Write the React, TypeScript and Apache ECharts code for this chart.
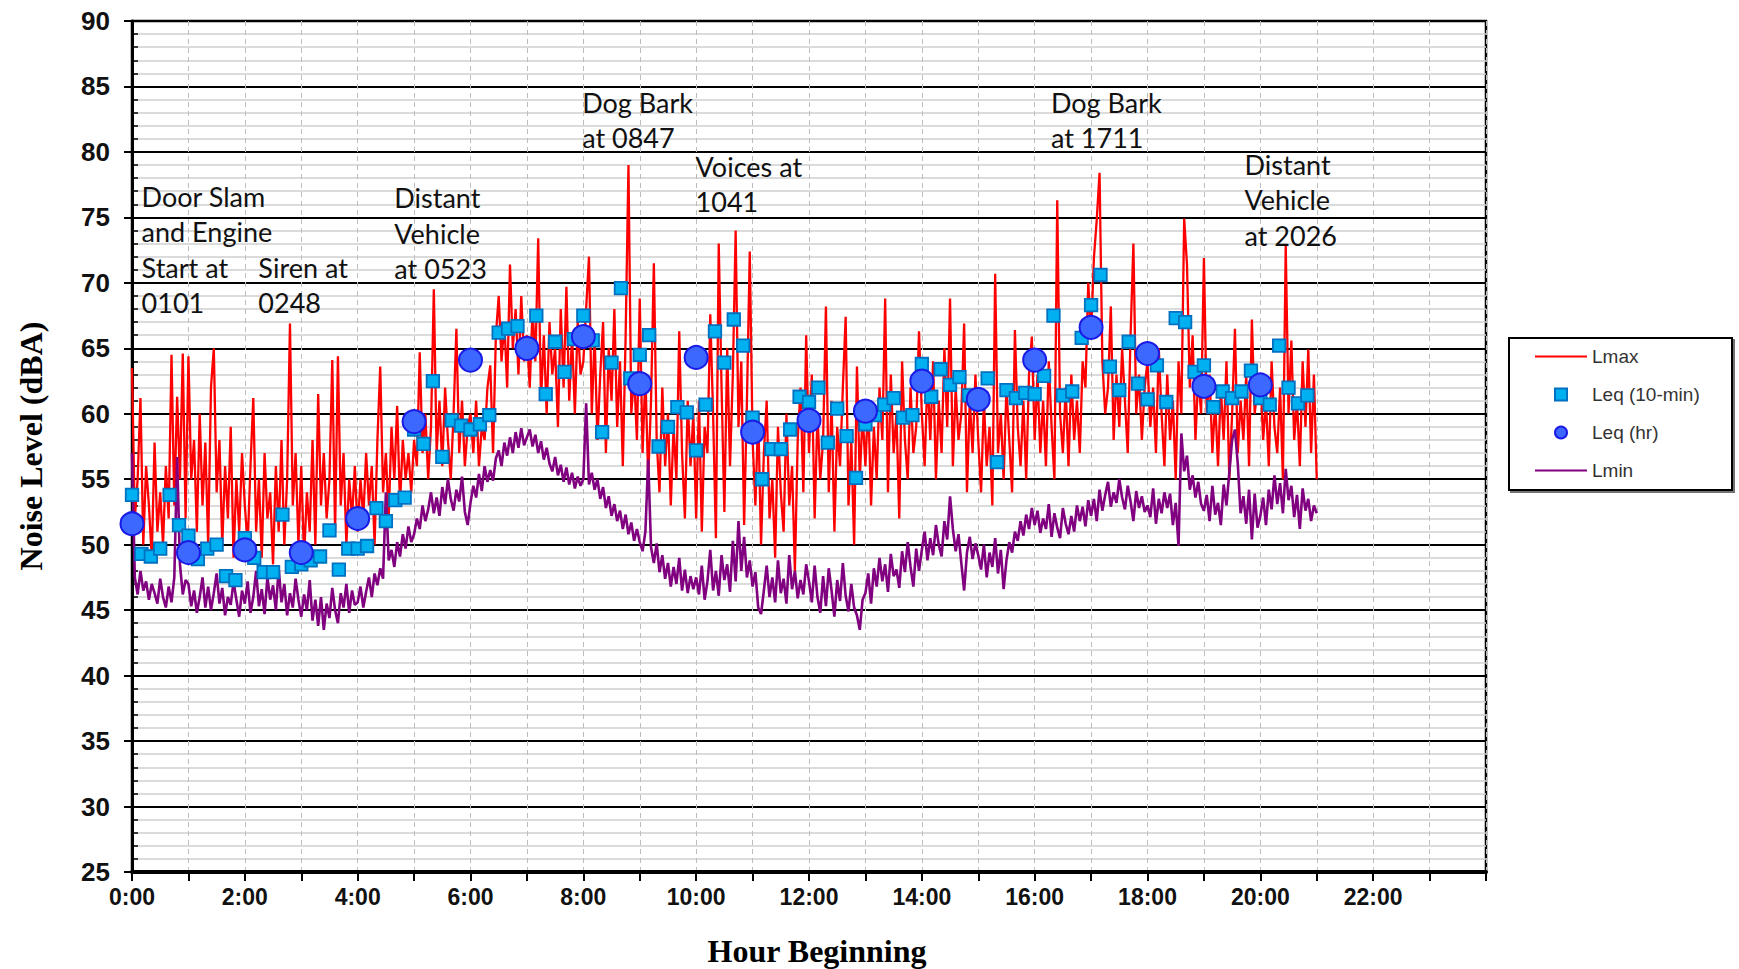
import React, { useEffect, useRef } from "react";
import * as echarts from "echarts";

// Lmax, 3-minute samples from 0:00 to 21:00 (dBA)
const lmaxValues: number[] = [
  // 0:00
  63.5, 52, 55, 61.2, 50, 56, 53, 49, 57.8, 51, 54, 50, 56, 52, 64.5, 53, 61.3, 55, 64.6, 52,
  // 1:00
  64.4, 55, 58, 51, 60, 53, 57.8, 50, 62, 65.0, 54, 58, 50, 56, 52, 59, 49, 55, 51, 57,
  // 2:00
  53, 50, 56, 61.2, 51, 55, 49, 57, 52, 54, 48.5, 56, 51, 58, 50, 55, 66.9, 53, 57, 50,
  // 3:00
  56, 49, 54, 51, 58, 50, 61.5, 53, 57, 52, 55, 64.1, 51, 64.4, 53, 57, 50, 55, 52, 56,
  // 4:00
  51, 55, 52, 57, 53, 56, 50, 58, 63.6, 54, 57, 52, 59, 55, 60.6, 53, 58, 55, 57, 54,
  // 5:00
  58, 56, 64.7, 57, 60, 55, 59, 69.5, 57, 61, 56, 62, 58, 55, 60, 66.5, 57, 61, 56, 59,
  // 6:00
  60, 57, 61, 56, 59, 58, 62, 63.7, 57, 66, 69, 64, 67, 62, 71.4, 65, 68, 63, 69, 64,
  // 7:00
  66, 62, 68, 64, 73.4, 61, 66, 60, 67, 63, 65, 59, 68, 62, 69.7, 61, 66, 60, 67, 63,
  // 8:00
  64, 68, 72.0, 60, 66, 58, 63, 67, 57, 65, 61, 68, 59, 64, 56, 66, 79.0, 60, 63, 58,
  // 9:00
  68.8, 57, 63, 55, 61, 71.5, 58, 54, 62, 56, 60, 53, 59, 55, 66.3, 57, 52, 61, 56, 60,
  // 10:00
  52, 61, 51, 59, 57, 67.6, 60, 50.5, 73.0, 62, 52.5, 65, 56, 63, 74.0, 59, 64, 51.5, 61, 72.4,
  // 11:00
  58, 53, 60, 50, 57, 61, 52, 55, 49, 59, 54, 51, 60, 53, 56, 48, 58, 62, 54, 66.0,
  // 12:00
  57, 63, 52, 60, 55, 58, 68.2, 54, 61, 51, 59, 56, 62, 67.4, 53, 58, 50, 63.6, 55, 60,
  // 13:00
  56, 61, 53, 59, 55, 62, 58, 68.8, 54, 63, 57, 60, 52, 64, 58, 55, 62, 57, 59, 66.3,
  // 14:00
  60, 56, 63, 58, 64, 55, 61, 57, 65, 59, 68.8, 56, 62, 58, 60, 66.9, 54, 61, 57, 63,
  // 15:00
  58, 54, 61, 56, 59, 53, 70.7, 57, 60, 55, 62, 58, 54, 66.4, 59, 56, 61, 55, 63, 65.9,
  // 16:00
  58, 63, 57, 61, 56, 64, 59, 55, 76.3, 60, 57, 62, 56, 63, 58, 61, 57, 64, 62, 70.0,
  // 17:00
  66, 71.9, 74.8, 78.4, 64, 60, 62, 68.2, 58, 63, 59, 65, 61, 57, 66, 73.0, 60, 63, 58, 62,
  // 18:00
  64, 59, 62, 57, 65, 60, 56, 63, 58, 61, 55, 64, 60, 74.9, 71.4, 62, 66, 58, 63, 60,
  // 19:00
  71.9, 60, 63, 57, 61, 56, 62, 58, 64, 55, 60, 66.5, 57, 61, 58, 63, 56, 67.2, 60, 62,
  // 20:00
  63, 58, 61, 56, 64, 59, 57, 62, 55, 72.9, 60, 65.6, 58, 61, 56, 64, 59, 64.9, 57, 63,
  // 21:00
  55,
];

// Lmin, 3-minute samples from 0:00 to 21:00 (dBA)
const lminValues: number[] = [
  // 0:00
  57, 47.5, 46.2, 48, 46.5, 47.2, 45.8, 47, 46.3, 45.5, 47.4, 46, 45.2, 46.8, 45.6, 47.5, 56.7, 48.5, 46.2, 47.3,
  // 1:00
  47, 45.3, 46.5, 44.8, 46, 47.5, 45.2, 46.8, 45, 46.3, 47.8, 45.5, 46.7, 44.6, 46, 45.4, 47.2, 45.8, 44.5, 46.5,
  // 2:00
  45.5, 47.2, 44.8, 46, 48, 45.3, 46.6, 44.7, 47.5, 45.8, 46.9, 45, 48.2, 45.6, 47, 44.6, 46.3, 45.2, 47.4, 45.8,
  // 3:00
  44.5, 46.2, 45, 47.3, 44.2, 45.8, 43.8, 46, 43.5, 45.5, 44.4, 46.7, 45, 44, 46.3, 45.2, 47, 44.8, 46.5, 45.4,
  // 4:00
  45.6, 46.8, 45.2, 46.4, 47.5, 46, 47.8, 46.9, 48.2, 47.4, 54, 48.8, 49.6, 48.3, 50.2, 49.1, 50.8, 49.7, 51.4, 50.2,
  // 5:00
  50.8, 52, 51.2, 53, 51.8, 52.7, 54, 52.4, 53.6, 52.2, 54.4, 53.1, 55, 53.5, 52.6, 54.2, 53.3, 55.2, 52.5, 51.5,
  // 6:00
  53.2, 54.5, 53.6, 55.4, 54.1, 56, 54.8, 55.7, 54.9, 56.6, 57.2, 56, 57.8, 56.8, 58.2, 57, 58.6, 57.4, 58.9, 57.6,
  // 7:00
  58.2, 58.8, 57.5, 58.4, 57, 57.9, 56.5, 57.4, 56.2, 55.6, 56.7, 55.3, 56.1, 54.8, 55.9, 54.6, 55.5, 54.3, 55.2, 54.5,
  // 8:00
  55, 60.8, 54.6, 55.5, 54.2, 55, 53.5, 54.4, 52.8, 53.7, 52.2, 53.1, 51.8, 52.6, 51.2, 52.3, 50.8, 51.7, 50.3, 51.2,
  // 9:00
  50.2, 49.5, 51, 56.5, 49.8, 48.6, 50.1, 47.9, 49.2, 47.4, 48.6, 46.8, 48.3, 47, 49, 46.5, 48.1, 46.3, 47.6, 46.6,
  // 10:00
  47.5, 46.2, 48.4, 45.8, 47.2, 49.6, 46.5, 48, 46.1, 49.2, 47.3, 48.5, 46.4, 50.3, 47.2, 51.8, 48, 50.6, 47.5, 48.8,
  // 11:00
  46.8, 47.9, 45.2, 44.7, 46.5, 48.4, 46, 47.5, 45.6, 48.8, 46.3, 47.4, 45.5, 49.2, 46.6, 48, 45.9, 47.3, 46.2, 48.5,
  // 12:00
  47.2, 45.6, 48.4, 46, 44.8, 47.6, 45.3, 48.2, 46.5, 44.5, 47.3, 45.7, 48.6, 46.1, 44.9, 47, 45.2, 44.6, 43.5, 45.8,
  // 13:00
  46.3, 47.8, 45.5, 48.2, 46.8, 49, 47.2, 48.5, 46.4, 49.3, 47.6, 48.1, 46.7, 49.5, 47.9, 50.2, 48.3, 46.8, 49.7, 48,
  // 14:00
  49.6, 51, 48.8, 50.5, 49.2, 51.5, 50, 49.1, 51.8, 50.4, 53.7, 51.2, 49.5, 50.8, 48.6, 46.5, 49.4, 50.6, 48.9, 50.1,
  // 15:00
  49.2, 48.1, 50, 47.5, 49.4, 48.3, 50.5, 47.8, 49.6, 46.6, 48.8, 50.2, 49.4, 51, 50.3, 51.8, 50.7, 52.3, 51.2, 52.8,
  // 16:00
  51.5, 52.6, 50.9, 52, 51.2, 53.1, 50.6, 52.4, 51.3, 50.5, 52.8, 51.6, 50.8, 52.2, 51, 53, 51.8, 52.9, 51.4, 53.4,
  // 17:00
  52.2, 53.5, 51.8, 54.2, 52.6, 53.8, 54.8, 52.9, 54, 53.2, 55, 53.6, 52.7, 54.5, 53.3, 51.8, 54.1, 52.8, 53.7, 52.5,
  // 18:00
  53, 52.1, 54.3, 51.6, 53.5, 52.4, 54, 52.8, 53.9, 51.5, 53.2, 49.9, 58.5, 55.6, 56.8, 54.2, 55.3, 53.6, 54.8, 53.1,
  // 19:00
  52.6, 53.8, 51.8, 54.5, 52.3, 53.2, 51.5, 54.6, 53, 55.5, 58, 58.8, 56.2, 52.4, 53.7, 51.6, 54.2, 50.4, 53.9, 51.3,
  // 20:00
  52.2, 53.6, 51.5, 54.2, 52.7, 55.3, 53.1, 54.7, 52.4, 55.8, 53.4, 54.5, 52.1, 53.8, 51.2, 54.3, 52.6, 53.5, 51.8, 53,
  // 21:00
  52.4,
];

// Leq (10-min), from 0:00 to 20:50
const leq10Values: number[] = [
  53.8, 49.3, 49.1, 49.7, 53.8, 51.5,
  50.7, 48.9, 49.7, 50.0, 47.6, 47.3,
  50.5, 49.0, 47.9, 47.9, 52.3, 48.3,
  48.5, 48.8, 49.1, 51.1, 48.1, 49.7,
  49.7, 49.9, 52.8, 51.8, 53.4, 53.6,
  58.8, 57.7, 62.5, 56.7, 59.5, 59.1,
  58.8, 59.2, 59.9, 66.2, 66.5, 66.7,
  64.9, 67.5, 61.5, 65.5, 63.2, 65.7,
  67.5, 65.6, 58.6, 63.9, 69.6, 62.7,
  64.5, 66.0, 57.5, 59.0, 60.5, 60.1,
  57.2, 60.7, 66.3, 63.9, 67.2, 65.2,
  59.7, 55.0, 57.3, 57.3, 58.8, 61.3,
  60.9, 62.0, 57.8, 60.4, 58.3, 55.1,
  59.2, 59.9, 60.7, 61.2, 59.7, 59.9,
  63.8, 61.3, 63.4, 62.2, 62.8, 61.4,
  60.8, 62.7, 56.3, 61.8, 61.2, 61.6,
  61.5, 62.9, 67.5, 61.4, 61.7, 65.8,
  68.3, 70.6, 63.6, 61.8, 65.5, 62.3,
  61.1, 63.7, 60.9, 67.3, 67.0, 63.2,
  63.7, 60.5, 61.7, 61.2, 61.7, 63.3,
  61.2, 60.7, 65.2, 62.0, 60.8, 61.4,
];

// Leq (hr), from 0:00 to 20:00
const leqHrValues: number[] = [
  51.6, 49.4, 49.6, 49.4, 52.0, 59.4, 64.1, 65.0, 65.9, 62.3, 64.3,
  58.6, 59.5, 60.2, 62.5, 61.1, 64.1, 66.6, 64.6, 62.1, 62.2,
];

// annotation anchor: hour of left edge, level (dBA) of first text line's centre
const annotations = [
  { text: "Door Slam\nand Engine\nStart at\n0101", hour: 0.17, level: 76.6 },
  { text: "Siren at\n0248", hour: 2.24, level: 71.2 },
  { text: "Distant\nVehicle\nat 0523", hour: 4.65, level: 76.5 },
  { text: "Dog Bark\nat 0847", hour: 7.98, level: 83.8 },
  { text: "Voices at\n1041", hour: 9.99, level: 78.9 },
  { text: "Dog Bark\nat 1711", hour: 16.29, level: 83.8 },
  { text: "Distant\nVehicle\nat 2026", hour: 19.72, level: 79.05 },
];

const SAMPLE_STEP_H = 3 / 60; // 3-minute samples
const LEQ10_STEP_H = 10 / 60;

const LINE_ICON = "path://M0,0 L52,0 L52,2.2 L0,2.2 Z";
const SQUARE_ICON = "path://M0,0 L10,0 L10,10 L0,10 Z";
const CIRCLE_ICON = "circle";

export default function App() {
  const ref = useRef<HTMLDivElement>(null);

  useEffect(() => {
    if (!ref.current) return;
    const chart = echarts.init(ref.current, null, { renderer: "svg" });

    const gridLeft = 132;
    const gridTop = 21;
    const gridRight = 253;
    const gridBottom = 97;
    const W = 1739;
    const H = 969;
    const plotW = W - gridLeft - gridRight;
    const plotH = H - gridTop - gridBottom;
    const px = (h: number) => gridLeft + (h / 24) * plotW;
    const py = (v: number) => gridTop + ((90 - v) / 65) * plotH;

    const annoFont = "27px Lato, 'Open Sans', sans-serif";
    const annoLine = 35.5;

    const graphics: any[] = [
      {
        type: "rect",
        silent: true,
        shape: { x: 1509, y: 338, width: 223, height: 152 },
        style: {
          fill: "#ffffff",
          stroke: "#000000",
          lineWidth: 2,
          shadowColor: "rgba(0,0,0,0.55)",
          shadowOffsetX: 2,
          shadowOffsetY: 2,
          shadowBlur: 0,
        },
        z: 0,
      },
      {
        type: "text",
        silent: true,
        x: 31,
        y: 446,
        rotation: Math.PI / 2,
        style: {
          text: "Noise Level (dBA)",
          font: "bold 32px 'Liberation Serif', 'Times New Roman', serif",
          fill: "#000",
          align: "center",
          verticalAlign: "middle",
        },
      },
      {
        type: "text",
        silent: true,
        x: 817,
        y: 951,
        style: {
          text: "Hour Beginning",
          font: "bold 32px 'Liberation Serif', 'Times New Roman', serif",
          fill: "#000",
          align: "center",
          verticalAlign: "middle",
        },
      },
    ];

    annotations.forEach((a) => {
      graphics.push({
        type: "text",
        silent: true,
        x: px(a.hour),
        y: py(a.level) - annoLine / 2,
        z: 10,
        style: {
          text: a.text,
          font: annoFont,
          lineHeight: annoLine,
          fill: "#111",
          align: "left",
          verticalAlign: "top",
        },
      });
    });

    const option: any = {
      animation: false,
      backgroundColor: "#ffffff",
      grid: [
        {
          left: gridLeft,
          right: gridRight,
          top: gridTop,
          bottom: gridBottom,
          show: true,
          borderColor: "#000",
          borderWidth: 2.5,
          backgroundColor: "transparent",
        },
        {
          left: gridLeft,
          right: gridRight,
          top: gridTop,
          bottom: gridBottom,
          show: false,
        },
      ],
      legend: {
        orient: "vertical",
        left: 1530,
        top: 342,
        itemWidth: 52,
        itemHeight: 12,
        itemGap: 19,
        selectedMode: false,
        symbolKeepAspect: true,
        data: [
          { name: "Lmax", icon: LINE_ICON },
          { name: "Leq (10-min)", icon: SQUARE_ICON },
          { name: "Leq (hr)", icon: CIRCLE_ICON },
          { name: "Lmin", icon: LINE_ICON },
        ],
        textStyle: {
          fontSize: 19,
          color: "#333",
          fontFamily: "'Liberation Sans', Arial, sans-serif",
        },
      },
      xAxis: [
        {
          type: "value",
          gridIndex: 0,
          min: 0,
          max: 24,
          interval: 1,
          axisLine: { show: true, lineStyle: { color: "#000", width: 4 } },
          axisTick: { show: true, length: 9, lineStyle: { color: "#000", width: 2 } },
          axisLabel: {
            margin: 13,
            fontSize: 23,
            fontWeight: "bold",
            color: "#111",
            fontFamily: "'Liberation Sans Narrow', 'Arial Narrow', 'Liberation Sans', Arial, sans-serif",
            formatter: (v: number) => (v % 2 === 0 && v < 24 ? `${v}:00` : ""),
          },
          splitLine: {
            show: true,
            lineStyle: { color: "#bdbdbd", width: 1, type: [5, 4] },
          },
        },
        {
          type: "value",
          gridIndex: 1,
          min: 0,
          max: 24,
          show: false,
        },
      ],
      yAxis: [
        {
          type: "value",
          gridIndex: 0,
          min: 25,
          max: 90,
          interval: 5,
          axisLine: { show: true, lineStyle: { color: "#000", width: 3 } },
          axisTick: { show: true, length: 8, lineStyle: { color: "#000", width: 2 } },
          axisLabel: {
            margin: 22,
            fontSize: 26,
            fontWeight: "bold",
            color: "#111",
            fontFamily: "'Liberation Sans', Arial, sans-serif",
          },
          splitLine: { show: true, lineStyle: { color: "#000", width: 2 } },
          minorTick: { show: false, splitNumber: 5 },
          minorSplitLine: { show: true, lineStyle: { color: "#cfcfcf", width: 1.5 } },
        },
        {
          type: "value",
          gridIndex: 1,
          min: 25,
          max: 90,
          interval: 1,
          position: "left",
          axisLine: { show: false },
          axisTick: { show: true, inside: true, length: 6, lineStyle: { color: "#000", width: 1.5 } },
          axisLabel: { show: false },
          splitLine: { show: false },
        },
      ],
      series: [
        {
          name: "Lmax",
          type: "line",
          xAxisIndex: 0,
          yAxisIndex: 0,
          data: lmaxValues.map((v, i) => [i * SAMPLE_STEP_H, v]),
          symbol: "none",
          lineStyle: { color: "#ff0000", width: 2.3 },
          itemStyle: { color: "#ff0000" },
          z: 2,
        },
        {
          name: "Lmin",
          type: "line",
          xAxisIndex: 0,
          yAxisIndex: 0,
          data: lminValues.map((v, i) => [i * SAMPLE_STEP_H, v]),
          symbol: "none",
          lineStyle: { color: "#800080", width: 2.6 },
          itemStyle: { color: "#800080" },
          z: 3,
        },
        {
          name: "Leq (10-min)",
          type: "scatter",
          xAxisIndex: 0,
          yAxisIndex: 0,
          data: leq10Values.map((v, i) => [i * LEQ10_STEP_H, v]),
          symbol: "rect",
          symbolSize: 12.5,
          itemStyle: { color: "#00b0f0", borderColor: "#0070c0", borderWidth: 1.8, opacity: 1 },
          z: 4,
        },
        {
          name: "Leq (hr)",
          type: "scatter",
          xAxisIndex: 0,
          yAxisIndex: 0,
          data: leqHrValues.map((v, i) => [i, v]),
          symbol: "circle",
          symbolSize: 23,
          itemStyle: { color: "#3d68ff", borderColor: "#1a1ae6", borderWidth: 2, opacity: 1 },
          z: 5,
        },
      ],
      graphic: graphics,
    };

    chart.setOption(option);
    return () => chart.dispose();
  }, []);

  return (
    <div
      ref={ref}
      style={{ position: "fixed", left: 0, top: 0, width: 1739, height: 969, background: "#fff" }}
    />
  );
}
